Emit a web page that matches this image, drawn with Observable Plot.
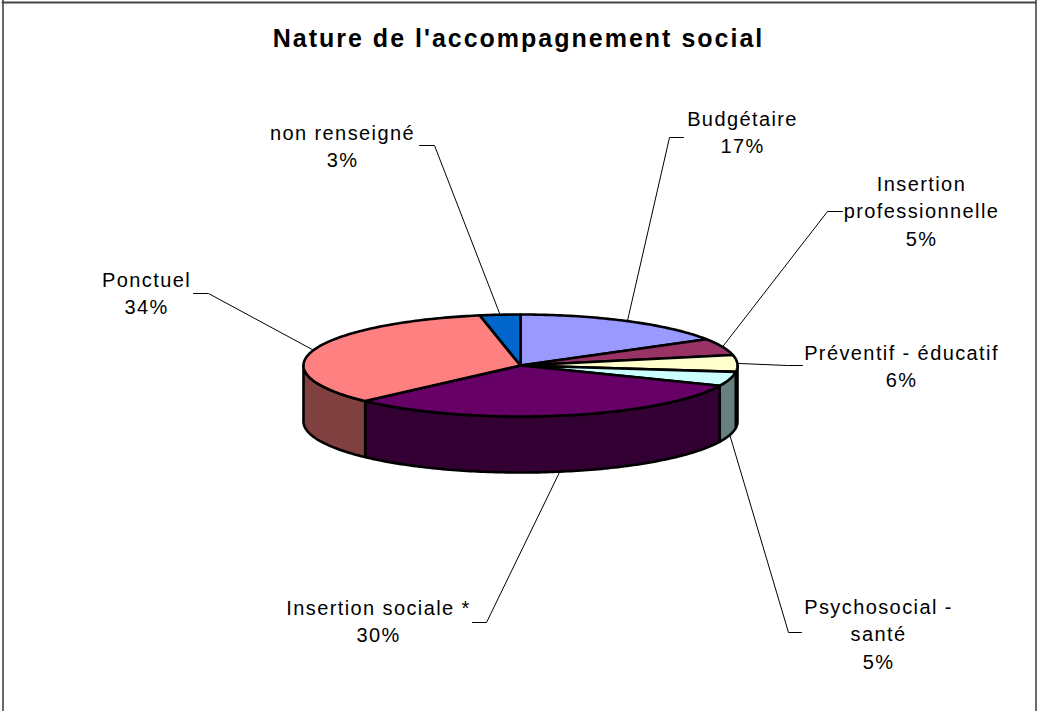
<!DOCTYPE html>
<html><head><meta charset="utf-8">
<script src="https://cdn.jsdelivr.net/npm/d3@7"></script>
<script src="https://cdn.jsdelivr.net/npm/@observablehq/plot@0.6"></script>
<style>html,body{margin:0;padding:0;background:#fff}svg{display:block}
.lab text{letter-spacing:1.4px}.ttl text{letter-spacing:2px}</style>
</head><body><div id="chart"></div>
<script>
const title = "Nature de l'accompagnement social";
const categories = ["Budgétaire","Insertion\nprofessionnelle","Préventif - éducatif","Psychosocial -\nsanté","Insertion sociale *","Ponctuel","non renseigné"];
const percentLabels = ["17%","5%","6%","5%","30%","34%","3%"];
// slice sweep as measured on the picture (percent of the circle)
const sweep = [16.4, 5.3, 5.3, 4.5, 31.2, 34.3, 3];

// presentation
const W = 1037, H = 711;
const topColors = ["#9999FF","#993366","#FFFFCC","#CCFFFF","#660066","#FF8080","#0066CC"];
const sideColors = ["#4D4D80","#4D1A33","#808066","#668080","#330033","#804040","#003366"];
const pie = {cx:520, cy:365, rx:217, ry:51, depth:56};
// label centre, leader elbow and leader end, per category
const place = [
  {lx:742, ly:130, ex:669, ey:137, tx:683},
  {lx:921, ly:209, ex:827, ey:211, tx:842},
  {lx:901, ly:364, ex:787, ey:365, tx:802},
  {lx:878, ly:632, ex:788, ey:632, tx:801},
  {lx:378, ly:619, ex:486, ey:622, tx:472},
  {lx:146, ly:291, ex:208, ey:293, tx:193},
  {lx:342, ly:144, ex:434, ey:145, tx:419}
];

const total = d3.sum(sweep);
const bounds = d3.cumsum(sweep).map(v => v / total * 2 * Math.PI);
const rim = (a, dz = 0) => ({x: pie.cx + pie.rx * Math.sin(a), y: pie.cy - pie.ry * Math.cos(a) + dz});
const arc = (a0, a1, dz = 0) => {
  const n = Math.max(2, Math.ceil((a1 - a0) * 60));
  return d3.range(n + 1).map(i => rim(a0 + (a1 - a0) * i / n, dz));
};
const faces = [], sides = [], leaders = [], labels = [];
sweep.forEach((v, i) => {
  const a0 = i ? bounds[i - 1] : 0, a1 = bounds[i];
  faces.push(...[{x:pie.cx, y:pie.cy}, ...arc(a0, a1), {x:pie.cx, y:pie.cy}].map(p => ({...p, id:i, color:topColors[i]})));
  const s0 = Math.max(a0, Math.PI / 2), s1 = Math.min(a1, 3 * Math.PI / 2);
  if (s1 > s0) sides.push(...[...arc(s0, s1), ...arc(s0, s1, pie.depth).reverse(), rim(s0)].map(p => ({...p, id:i, color:sideColors[i]})));
  const mid = (a0 + a1) / 2;
  const start = rim(mid, Math.cos(mid) < 0 && Math.abs(Math.sin(mid)) < 0.99 ? pie.depth : 0);
  const p = place[i];
  leaders.push(start, {x:p.ex, y:p.ey}, {x:p.tx, y:p.ey});
  leaders.slice(-3).forEach(q => q.id = i);
  labels.push({x:p.lx, y:p.ly, text:categories[i] + "\n" + percentLabels[i]});
});

const chart = Plot.plot({
  width: W, height: H, margin: 0,
  x: {domain:[0, W], range:[0, W], axis:null},
  y: {domain:[0, H], range:[0, H], axis:null},
  color: {type:"identity"},
  style: {fontFamily:"'Liberation Sans', Arial, sans-serif", background:"#fff"},
  marks: [
    Plot.ruleX([2.5, 1035.5], {stroke:"#444", strokeWidth:1.6}),
    Plot.ruleY([2], {x1:()=>1.7, x2:()=>1036.3, stroke:"#444", strokeWidth:1.8}),
    Plot.line(leaders, {x:"x", y:"y", z:"id", stroke:"#000", strokeWidth:1, curve:"linear"}),
    Plot.line(sides, {x:"x", y:"y", z:"id", fill:"color", stroke:"#000", strokeWidth:2.6, strokeLinejoin:"round", curve:"linear"}),
    Plot.line(faces, {x:"x", y:"y", z:"id", fill:"color", stroke:"#000", strokeWidth:2.6, strokeLinejoin:"round", curve:"linear"}),
    Plot.text(labels, {x:"x", y:"y", text:"text", fontSize:20, lineHeight:1.37, fill:"#000", textAnchor:"middle", frameAnchor:"middle", className:"lab"}),
    Plot.text([title], {x:()=>518, y:()=>38, text:d=>d, fontSize:25, fontWeight:"bold", fill:"#000", className:"ttl"})
  ]
});
document.getElementById("chart").append(chart);
</script></body></html>
